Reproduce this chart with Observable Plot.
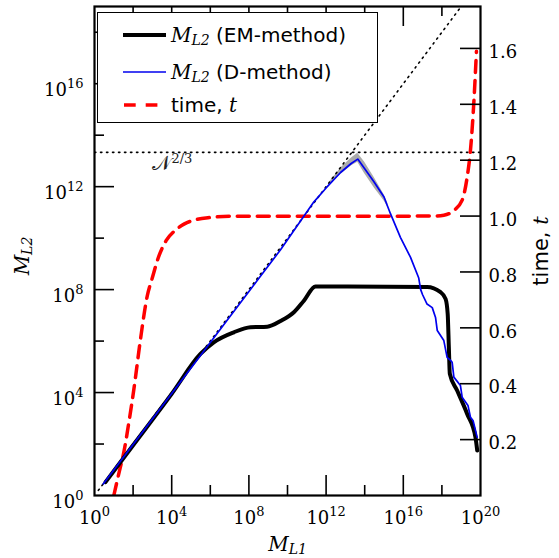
<!DOCTYPE html>
<html><head><meta charset="utf-8">
<script src="https://cdn.jsdelivr.net/npm/d3@7"></script>
<script src="https://cdn.jsdelivr.net/npm/@observablehq/plot@0.6"></script>
<style>
body{margin:0;background:#fff;}
#wrap{position:relative;width:559px;height:558px;overflow:hidden;}
#legend{position:absolute;left:97px;top:12px;width:279px;height:109px;border:1.5px solid #000;background:#fff;font-family:"DejaVu Sans";font-size:20px;color:#000;}
.row{position:absolute;left:0;height:30px;display:flex;align-items:center;white-space:nowrap;}
.row svg{margin-left:25px;margin-right:5px;}
.m{font-family:"DejaVu Serif";font-style:italic;font-size:20px;}
.m sub{font-size:14px;vertical-align:-3px;line-height:0;}
.ti{font-family:"DejaVu Serif";font-style:italic;font-size:20px;}
</style></head>
<body><div id="wrap"><div id="chart"></div><div id="legend"></div></div>
<script>
// ---- data (exponents are log10 of M_L1 / M_L2) ----
const emLogX = [0.57,2.0,4.0,5.49,6.18,7.22,8.08,8.95,9.64,10.33,10.85,11.45,17.23,17.93,18.19,18.3,18.36,18.41,18.79,19.31,19.74,19.83];
const emLogY = [0.52,1.95,3.95,5.5,5.95,6.34,6.54,6.56,6.78,7.12,7.57,8.12,8.1,7.9,7.64,7.06,5.76,4.73,4.08,3.17,2.26,1.75];
const dLogX = [0.45,5.0,8.43,9.64,11.36,12.0,12.75,13.3,13.64,14.0,14.47,15.0,15.34,15.85,16.37,16.8,16.9,17.0,17.23,17.5,17.67,17.76,18.1,18.27,18.45,18.53,18.62,18.96,19.05,19.35,19.48,19.62,19.83];
const dLogY = [0.45,4.95,8.35,9.55,11.4,11.95,12.55,12.9,13.07,12.7,12.2,11.6,10.94,10.03,9.26,8.45,8.0,7.8,7.44,7.3,6.92,6.41,6.02,5.37,5.25,5.18,4.6,4.27,3.82,3.5,3.04,2.9,2.26];
const bandLogX = [12.2,12.8,13.3,13.64,14.0,14.5,15.0,15.2];
const bandLo = [12.1,12.5,12.8,12.95,12.5,11.95,11.45,11.2];
const bandHi = [12.2,12.75,13.1,13.3,12.95,12.35,11.7,11.35];
const timeLogX = [1.0,1.3,1.52,1.8,2.04,2.38,2.73,3.0,3.3,3.71,4.2,4.66,5.3,6.0,7.0,17.6,18.1,18.62,19.05,19.31,19.48,19.66,19.79];
const timeT = [0.0,0.09,0.155,0.27,0.38,0.558,0.713,0.78,0.85,0.912,0.95,0.972,0.988,0.995,0.999,1.0,1.003,1.02,1.057,1.14,1.235,1.413,1.59];
const diagLog = [0.2,19.5];
const nLog = 40/3; // N^{2/3}, N = 1e20
const xLabelTicks = [1e0,1e4,1e8,1e12,1e16,1e20];
const xMajorTicks = [1e4,1e8,1e12,1e16];
const xMinorTicks = [1e2,1e6,1e10,1e14,1e18];
const yLabelTicks = [1e0,1e4,1e8,1e12,1e16];
const yMajorTicks = [1e4,1e8,1e12,1e16];
const yMinorTicks = [1e2,1e6,1e10,1e14,1e18];
const tTicks = [0.2,0.4,0.6,0.8,1.0,1.2,1.4,1.6];
const tDomain = [0,1.75];
const yDecades = 19;

const W=559,H=558,mL=94,mR=79,mT=6,mB=63;
const innerW=W-mL-mR, innerH=H-mT-mB;
const p10 = v => Math.pow(10,v);
const tToY = t => p10((t-tDomain[0])/(tDomain[1]-tDomain[0])*yDecades);
const yToT = y => Math.log10(y)/yDecades*(tDomain[1]-tDomain[0])+tDomain[0];

const em = emLogX.map((x,i)=>({x:p10(x),y:p10(emLogY[i])}));
const dm = dLogX.map((x,i)=>({x:p10(x),y:p10(dLogY[i])}));
const band = bandLogX.map((x,i)=>({x:p10(x),y1:p10(bandLo[i]),y2:p10(bandHi[i])}));
const tm = timeLogX.map((x,i)=>({x:p10(x),y:tToY(timeT[i])}));
const diag = diagLog.map(v=>({x:p10(v),y:p10(v)}));
const hline = [{x:1,y:p10(nLog)},{x:1e20,y:p10(nLog)}];

const expFmt = d => "10^" + Math.round(Math.log10(d));

const chart = Plot.plot({
  width:W,height:H,marginLeft:mL,marginRight:mR,marginTop:mT,marginBottom:mB,
  style:{fontFamily:"DejaVu Serif",fontSize:"18px",color:"#000",background:"#fff",overflow:"visible"},
  x:{type:"log",domain:[1,1e20]},
  y:{type:"log",domain:[1,p10(yDecades)]},
  marks:[
    Plot.areaY(band,{x:"x",y1:"y1",y2:"y2",fill:"#ababab",clip:true}),
    Plot.line(diag,{x:"x",y:"y",stroke:"#000",strokeWidth:1.6,strokeDasharray:"1.4,4.6",strokeLinecap:"round",clip:true}),
    Plot.line(hline,{x:"x",y:"y",stroke:"#000",strokeWidth:1.6,strokeDasharray:"1.4,4.6",strokeLinecap:"round",clip:true}),
    Plot.text(["N^2/3"],{x:1e3,y:p10(nLog),dy:11,textAnchor:"start",lineAnchor:"middle",fontSize:20,fill:"#222"}),
    Plot.line(tm,{x:"x",y:"y",stroke:"#ff0000",strokeWidth:3.5,strokeDasharray:"12,8",curve:"monotone-x",clip:true}),
    Plot.line(em,{x:"x",y:"y",stroke:"#000",strokeWidth:4,curve:"monotone-x",clip:true}),
    Plot.line(dm,{x:"x",y:"y",stroke:"#0000ee",strokeWidth:1.7,clip:true}),
    // ticks (inward)
    Plot.tickX(xMajorTicks,{x:d=>d,insetTop:innerH-20,stroke:"#000",strokeWidth:1.6}),
    Plot.tickX(xMinorTicks,{x:d=>d,insetTop:innerH-10,stroke:"#000",strokeWidth:1.6}),
    Plot.tickX(xMajorTicks,{x:d=>d,insetBottom:innerH-20,stroke:"#000",strokeWidth:1.6}),
    Plot.tickX(xMinorTicks,{x:d=>d,insetBottom:innerH-10,stroke:"#000",strokeWidth:1.6}),
    Plot.tickY(yMajorTicks,{y:d=>d,insetRight:innerW-20,stroke:"#000",strokeWidth:1.6}),
    Plot.tickY(yMinorTicks,{y:d=>d,insetRight:innerW-10,stroke:"#000",strokeWidth:1.6}),
    Plot.tickY(tTicks.map(tToY),{y:d=>d,insetLeft:innerW-20,stroke:"#000",strokeWidth:1.6}),
    Plot.frame({stroke:"#000",strokeWidth:2.2}),
    Plot.axisX(xLabelTicks,{anchor:"bottom",tickSize:0,tickPadding:16,tickFormat:expFmt,label:null,fontSize:18}),
    Plot.axisY(yLabelTicks,{anchor:"left",tickSize:0,tickPadding:11,tickFormat:expFmt,label:null,fontSize:18,dy:7}),
    Plot.axisY(tTicks.map(tToY),{anchor:"right",tickSize:0,tickPadding:8,tickFormat:d=>yToT(d).toFixed(1),label:null,fontSize:18,dy:4}),
    Plot.text(["M_L1"],{frameAnchor:"bottom",textAnchor:"middle",lineAnchor:"middle",dy:49,fontSize:20}),
    Plot.text(["M_L2"],{frameAnchor:"left",textAnchor:"middle",lineAnchor:"middle",dx:-72,dy:5,rotate:-90,fontSize:20}),
    Plot.text(["time, t"],{frameAnchor:"right",textAnchor:"middle",lineAnchor:"middle",dx:61,dy:0,rotate:-90,fontSize:21})
  ]
});
document.getElementById("chart").appendChild(chart);

// rich text (superscripts / subscripts / italics)
const NS="http://www.w3.org/2000/svg";
function rich(el,parts){
  while(el.firstChild) el.removeChild(el.firstChild);
  for(const p of parts){
    const ts=document.createElementNS(NS,"tspan");
    ts.textContent=p.t;
    if(p.ff) ts.setAttribute("font-family",p.ff);
    if(p.fs) ts.setAttribute("font-size",p.fs);
    if(p.st) ts.setAttribute("font-style",p.st);
    if(p.dy!==undefined) ts.setAttribute("dy",p.dy);
    el.appendChild(ts);
  }
}
chart.querySelectorAll("text").forEach(el=>{
  const s=el.textContent;
  let m;
  if((m=s.match(/^10\^(\d+)$/))) rich(el,[{t:"10",fs:18},{t:m[1],fs:13,dy:-8}]);
  else if((m=s.match(/^M_(L\d)$/))) rich(el,[{t:"M",st:"italic",fs:20},{t:m[1],st:"italic",fs:14,dy:3}]);
  else if(s==="time, t") rich(el,[{t:"time, ",ff:"DejaVu Sans",fs:21},{t:"t",st:"italic",ff:"DejaVu Serif",fs:21}]);
  else if(s==="N^2/3") rich(el,[{t:"\u{1D4A9}",st:"normal",fs:20},{t:"2/3",fs:13,dy:-7}]);
  else if(/^\d\.\d$/.test(s)) el.setAttribute("font-size",18);
});

// legend
const legendItems=[
  {label:"(EM-method)",math:true,color:"#000",w:4,dash:null,top:7},
  {label:"(D-method)",math:true,color:"#0000ee",w:1.7,dash:null,top:44},
  {label:"time,&nbsp;",math:false,color:"#ff0000",w:3.5,dash:"11.7,10",top:77}
];
const lg=document.getElementById("legend");
for(const it of legendItems){
  const row=document.createElement("div");
  row.className="row"; row.style.top=it.top+"px";
  row.innerHTML=`<svg width="43" height="10"><line x1="0" x2="43" y1="5" y2="5" stroke="${it.color}" stroke-width="${it.w}" ${it.dash?`stroke-dasharray="${it.dash}"`:""} stroke-dashoffset="-1"/></svg>`+
    (it.math?`<span class="m">M<sub>L2</sub></span><span>&nbsp;${it.label}</span>`:`<span>${it.label}</span><span class="ti">t</span>`);
  lg.appendChild(row);
}
</script>
</body></html>
